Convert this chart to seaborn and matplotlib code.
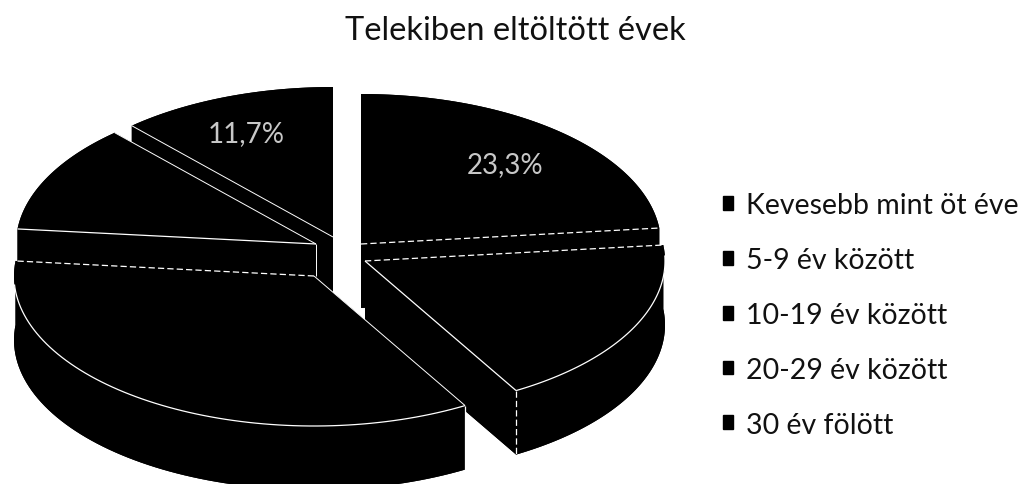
import numpy as np
import seaborn as sns
import matplotlib.pyplot as plt
from matplotlib.patches import Patch, Polygon

# values, only two labels are legible in the scan
categories = ['Kevesebb mint öt éve', '5-9 év között', '10-19 év között', '20-29 év között', '30 év fölött']
shares = [23.3, 18.3, 35.0, 11.7, 11.7]
value_labels = ['23,3%', '', '', '', '11,7%']
title = 'Telekiben eltöltött évek'

# layout, in pixels of the output image
RX, RY, DEPTH = 300, 150, 64
CENTER = (340, 255)
SHIFT = [(21, -10), (25, 7), (-26, 22), (-24, -10), (-7, -17)]
LABEL_NUDGE = [(0, 0), (0, 0), (0, 0), (0, 0), (-9, -3)]
DRAW_ORDER = [4, 3, 0, 1, 2]

sns.set_theme(style='white')
plt.rcParams['font.family'] = ['Lato', 'DejaVu Sans']
colors = sns.color_palette(['#000000'] * len(shares))

fig = plt.figure(figsize=(10.23, 4.85), dpi=100)
ax = fig.add_axes([0, 0, 1, 1])
ax.set_xlim(0, 1023)
ax.set_ylim(485, 0)
ax.axis('off')

edges = np.cumsum([0] + shares) * 3.6


def rim(i, start, stop):
    # points of the top rim of slice i, angles clockwise from the top
    t = np.radians(np.linspace(start, stop, 80))
    x0, y0 = CENTER[0] + SHIFT[i][0], CENTER[1] + SHIFT[i][1]
    return np.column_stack([x0 + RX * np.sin(t), y0 - RY * np.cos(t)])


def white(pts, zorder, dashed=False, lw=0.9):
    pts = np.asarray(pts)
    ax.plot(pts[:, 0], pts[:, 1], color='white', lw=lw, zorder=zorder,
            ls=(0, (5, 2.5)) if dashed else '-', solid_capstyle='butt')


for z, i in enumerate(DRAW_ORDER):
    start, stop = edges[i], edges[i + 1]
    arc = rim(i, start, stop)
    apex = np.array([CENTER[0] + SHIFT[i][0], CENTER[1] + SHIFT[i][1]])
    drop = np.array([0, DEPTH])
    top = np.vstack([apex, arc])
    ax.add_patch(Polygon(top + drop, color=colors[i], zorder=z * 2 + 1, lw=0))
    ax.add_patch(Polygon(np.vstack([arc, (arc + drop)[::-1]]), color=colors[i], zorder=z * 2 + 1, lw=0))
    for end in (arc[0], arc[-1]):
        ax.add_patch(Polygon([apex, end, end + drop, apex + drop], color=colors[i], zorder=z * 2 + 1, lw=0))
    ax.add_patch(Polygon(top, color=colors[i], zorder=z * 2 + 1, lw=0))

    # the few white edges that survived the scan
    zl = z * 2 + 2
    if i == 0:
        white([apex, arc[-1]], zl, dashed=True)
    elif i == 1:
        white([apex, arc[0]], zl, dashed=True)
        white([apex, arc[-1]], zl)
        white(rim(i, start + 4, stop), zl)
        white([arc[-1], arc[-1] + drop], zl, dashed=True)
    elif i == 2:
        white([apex, arc[0]], zl, lw=0.7)
        white(rim(i, start, stop - 9), zl)
        white([apex, arc[-1]], zl, dashed=True)
        white([arc[0], arc[0] + drop], zl)
    elif i == 3:
        white([apex, arc[0]], zl)
        white([apex, arc[-1]], zl, lw=0.7)
        white([apex, apex + drop * 0.5], zl, lw=0.7)
    elif i == 4:
        white([apex, arc[0]], zl, lw=0.7)

    if value_labels[i]:
        mid = np.radians((start + stop) / 2)
        ax.text(apex[0] + 0.72 * RX * np.sin(mid) + LABEL_NUDGE[i][0],
                apex[1] - 0.72 * RY * np.cos(mid) + LABEL_NUDGE[i][1], value_labels[i],
                color='#c8c8c8', fontsize=20, ha='center', va='center', zorder=30)

ax.text(515, 31, title, color='#111111', fontsize=23.5, ha='center', va='center')

handles = [Patch(color='#000000', label=c) for c in categories]
ax.legend(handles=handles, loc='center left', bbox_to_anchor=(723, 316), bbox_transform=ax.transData,
          frameon=False, fontsize=20.5, handlelength=0.36, handleheight=0.36, handletextpad=0.45,
          labelspacing=1.01, labelcolor='#111111', borderpad=0, borderaxespad=0)

fig.savefig('out.png', dpi=100)
plt.close(fig)
